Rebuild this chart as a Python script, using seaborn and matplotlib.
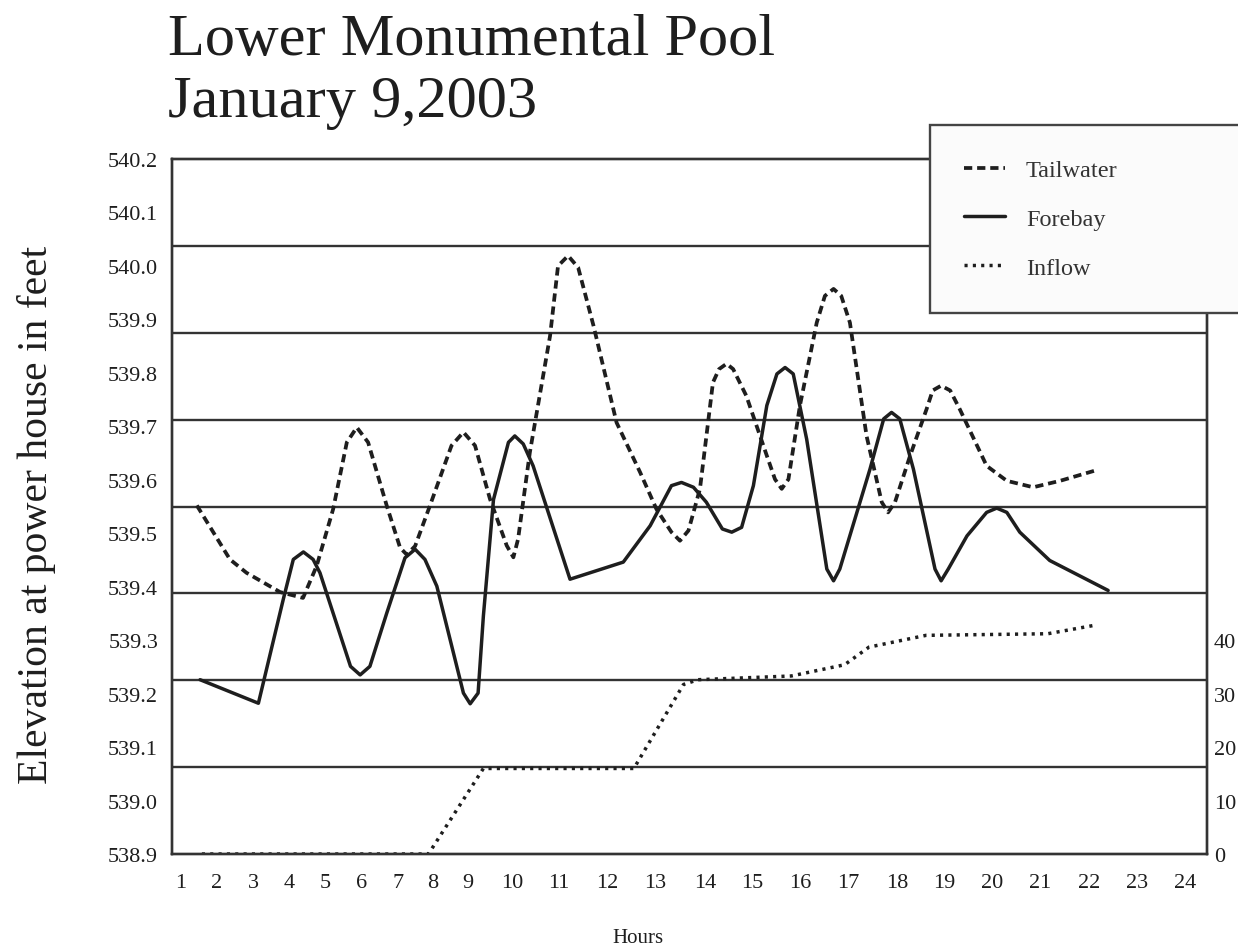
import numpy as np
import pandas as pd
import seaborn as sns
import matplotlib.pyplot as plt

# hours of the day (x) and water levels
tail_hour = [1.44, 2.36, 2.82, 3.75, 4.39, 4.77, 5.22, 5.59, 5.86, 6.17, 6.69, 7.06, 7.25,
             7.49, 7.91, 8.53, 8.87, 9.16, 9.5, 9.88, 10.03, 10.13, 10.38, 10.81, 10.98,
             11.19, 11.4, 11.72, 12.2, 12.69, 13.03, 13.33, 13.5, 13.67, 13.9, 14.17, 14.3,
             14.46, 14.6, 14.88, 15.31, 15.48, 15.62, 15.76, 16.0, 16.35, 16.52, 16.7,
             16.86, 17.04, 17.38, 17.69, 17.82, 17.96, 18.28, 18.63, 18.76, 18.94, 19.13,
             19.33, 19.89, 20.31, 20.86, 21.41, 22.12]
tail_elev = [539.552, 539.451, 539.426, 539.390, 539.379, 539.439, 539.545, 539.670,
             539.698, 539.670, 539.551, 539.473, 539.460, 539.476, 539.551, 539.664,
             539.689, 539.664, 539.564, 539.477, 539.455, 539.489, 539.651, 539.869,
             540.000, 540.019, 539.997, 539.888, 539.707, 539.614, 539.545, 539.502,
             539.486, 539.505, 539.583, 539.782, 539.807, 539.817, 539.807, 539.757,
             539.645, 539.601, 539.583, 539.601, 539.739, 539.894, 539.944, 539.957,
             539.944, 539.894, 539.682, 539.558, 539.539, 539.558, 539.645, 539.732,
             539.767, 539.776, 539.767, 539.732, 539.626, 539.598, 539.586, 539.598,
             539.617]

fore_hour = [1.53, 3.15, 3.84, 4.12, 4.4, 4.67, 4.86, 5.69, 5.95, 6.22, 6.69, 7.2, 7.49,
             7.77, 8.11, 8.87, 9.05, 9.23, 9.35, 9.58, 9.92, 10.06, 10.24, 10.45, 11.23,
             12.34, 12.9, 13.33, 13.53, 13.77, 14.03, 14.37, 14.57, 14.78, 15.03, 15.31,
             15.52, 15.69, 15.86, 16.14, 16.56, 16.7, 16.83, 17.45, 17.73, 17.89, 18.06,
             18.35, 18.81, 18.94, 19.09, 19.48, 19.89, 20.1, 20.31, 20.58, 21.2, 22.4]
fore_elev = [539.226, 539.182, 539.376, 539.451, 539.465, 539.451, 539.426, 539.251,
             539.235, 539.251, 539.351, 539.454, 539.470, 539.451, 539.401, 539.201,
             539.181, 539.201, 539.345, 539.563, 539.670, 539.682, 539.667, 539.626,
             539.414, 539.446, 539.514, 539.589, 539.595, 539.586, 539.558, 539.508,
             539.502, 539.511, 539.589, 539.739, 539.798, 539.810, 539.798, 539.676,
             539.433, 539.411, 539.433, 539.620, 539.714, 539.726, 539.714, 539.620,
             539.433, 539.411, 539.433, 539.495, 539.539, 539.547, 539.539, 539.502,
             539.449, 539.393]

inflow_hour = [1.58, 7.87, 9.35, 12.56, 13.57, 13.86, 15.82, 16.93, 17.43, 18.62, 21.16, 22.13]
inflow_val = [0, 0, 16, 16, 31.7, 32.6, 33.3, 35.4, 38.7, 40.9, 41.2, 42.8]

hour_labels = list(range(1, 25))
elev_ticks = [538.9, 539.0, 539.1, 539.2, 539.3, 539.4, 539.5, 539.6, 539.7, 539.8,
              539.9, 540.0, 540.1, 540.2]
inflow_ticks = [0, 10, 20, 30, 40]

# the printed hour axis is not evenly spaced: where each hour label sits (px)
label_px = [145, 181, 217, 253, 289, 325, 362, 398, 433, 468, 512, 559, 607, 655, 705,
            752, 800, 848, 897, 944, 992, 1040, 1089, 1137, 1185, 1233]
label_hr = [0] + hour_labels + [25]


def fwd(h):
    return np.interp(h, label_hr, label_px)


def inv(p):
    return np.interp(p, label_px, label_hr)


sns.set_style("white")
plt.rcParams['font.family'] = ['Liberation Serif', 'DejaVu Serif']
ink = '#1e1e1e'

fig = plt.figure(figsize=(12.38, 9.53), dpi=100)
ax = fig.add_axes([172 / 1238, 1 - 855 / 953, (1207 - 172) / 1238, (855 - 160) / 953])
ax2 = ax.twinx()

ax.set_xscale('function', functions=(fwd, inv))

tail = pd.DataFrame({'hour': tail_hour, 'elev': tail_elev})
fore = pd.DataFrame({'hour': fore_hour, 'elev': fore_elev})
inflow = pd.DataFrame({'hour': inflow_hour, 'flow': inflow_val})

sns.lineplot(data=tail, x='hour', y='elev', ax=ax, color=ink, linewidth=2.7,
             linestyle=(0, (2.2, 1.3)), estimator=None, sort=False, legend=False)
h_tail = ax.lines[-1]
sns.lineplot(data=fore, x='hour', y='elev', ax=ax, color=ink, linewidth=2.5,
             estimator=None, sort=False, legend=False)
h_fore = ax.lines[-1]
sns.lineplot(data=inflow, x='hour', y='flow', ax=ax2, color=ink, linewidth=2.5,
             linestyle=(0, (0.9, 1.5)), estimator=None, sort=False, legend=False)
h_in = ax2.lines[-1]

ax.set_xlim(0.75, 24.46)
ax.set_ylim(538.9, 540.2)
ax2.set_ylim(0, 130)

ax.set_xticks(hour_labels)
ax.set_xticklabels([str(h) for h in hour_labels])
ax.set_yticks(elev_ticks)
ax.set_yticklabels([f'{v:.1f}' for v in elev_ticks])
ax2.set_yticks(inflow_ticks)
ax2.set_yticklabels([str(v) for v in inflow_ticks])

# horizontal rules split the plot into 8 equal bands
ax.set_yticks(np.linspace(538.9, 540.2, 9), minor=True)
ax.grid(False)
ax2.grid(False)
ax.grid(True, which='minor', axis='y', color='#333333', linewidth=1.7)
ax.tick_params(axis='y', which='both', length=0, pad=10, labelsize=16, labelcolor=ink)
ax.tick_params(axis='x', length=0, pad=14, labelsize=16, labelcolor=ink)
ax2.tick_params(axis='y', length=0, pad=5, labelsize=16, labelcolor=ink)

for a in (ax, ax2):
    for s in a.spines.values():
        s.set_visible(True)
        s.set_color('#333333')
        s.set_linewidth(1.7)

ax.set_xlabel('Hours', fontsize=15, color=ink)
ax.xaxis.set_label_coords(0.45, -0.106)
ax.set_ylabel('Elevation at power house in feet', fontsize=30, color=ink)
ax.yaxis.set_label_coords(-0.112, 0.49)
ax2.set_ylabel('')

fig.text(168 / 1238, 1 - 55 / 953, 'Lower Monumental Pool', fontsize=43.5, color=ink,
         va='baseline', ha='left')
fig.text(168 / 1238, 1 - 117 / 953, 'January 9,2003', fontsize=43.5, color=ink,
         va='baseline', ha='left')

leg = fig.legend([h_tail, h_fore, h_in], ['Tailwater', 'Forebay', 'Inflow'],
                 loc='upper left', mode='expand',
                 bbox_to_anchor=(930 / 1238, 0, 320 / 1238, 1 - 126 / 953),
                 fontsize=17.5, frameon=True, fancybox=False, borderpad=1.4,
                 labelspacing=1.1, handlelength=1.7, handletextpad=0.85,
                 borderaxespad=0)
leg.get_frame().set_facecolor('#fbfbfb')
leg.get_frame().set_edgecolor('#444444')
leg.get_frame().set_linewidth(1.7)
leg.get_frame().set_alpha(1)
for t in leg.get_texts():
    t.set_color('#333333')

fig.savefig('out.png', dpi=100)
